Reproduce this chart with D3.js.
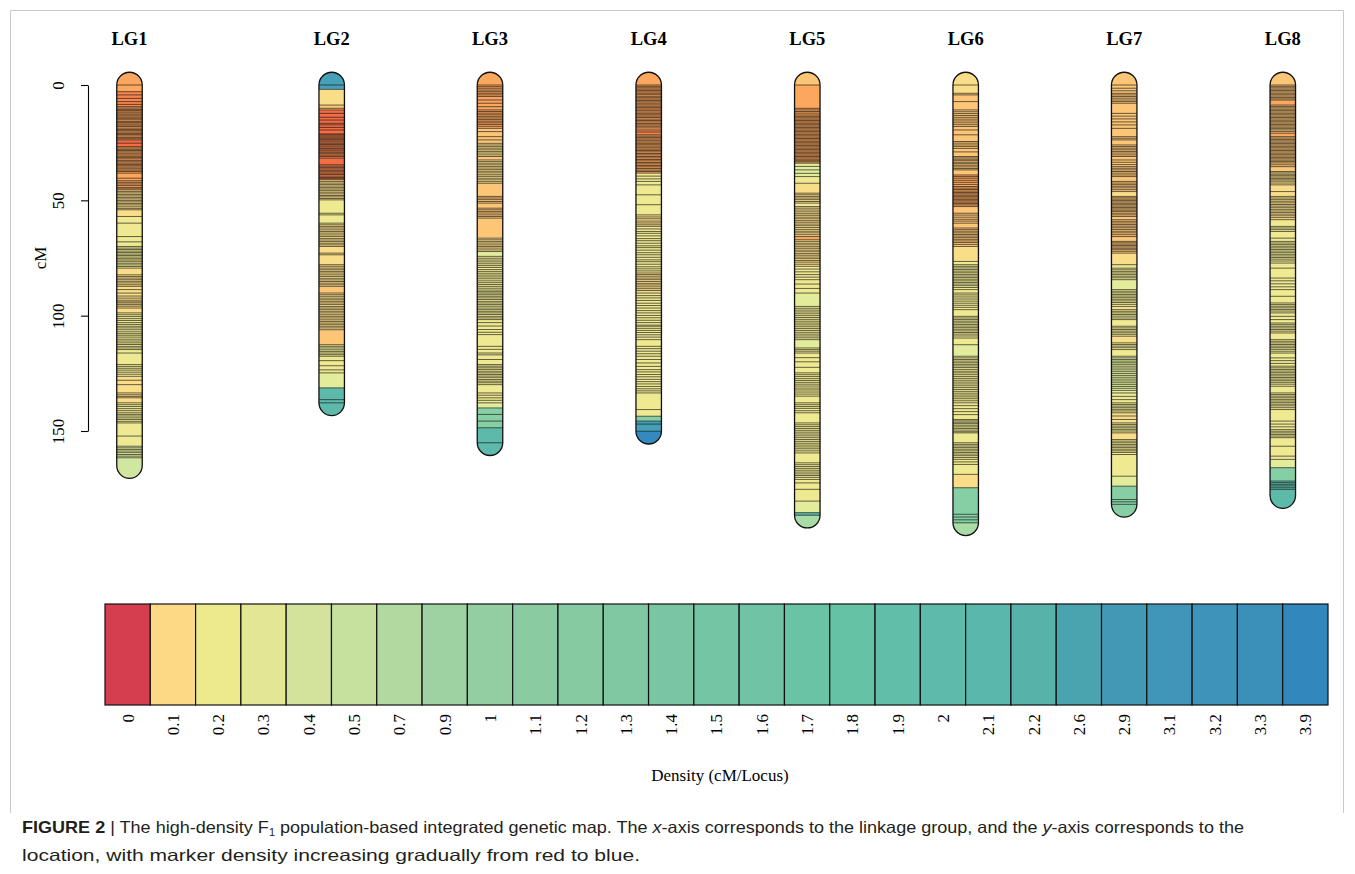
<!DOCTYPE html>
<html><head><meta charset="utf-8">
<script src="https://cdn.jsdelivr.net/npm/d3@7"></script>
<style>body{margin:0;background:#fff}svg{display:block}</style>
</head><body>
<svg id="chart" width="1355" height="874"></svg>
<script>
// ---------- DATA ----------
const lgNames = ["LG1","LG2","LG3","LG4","LG5","LG6","LG7","LG8"];
const lgLength = [165, 137.8, 155.1, 150.1, 186.5, 189.8, 181.8, 178];
const yTicks = [0, 50, 100, 150];

const lg1Markers = [0,2.9,4.3,5.8,7.2,8.4,9.4,10.0,10.6,11.1,11.7,12.2,12.9,13.4,14.0,14.6,15.1,15.8,16.3,16.9,17.4,18.0,18.7,19.3,19.8,20.4,21.0,21.5,22.1,22.8,23.3,23.8,25.2,26.7,27.3,27.9,28.4,29.0,29.6,30.3,30.9,31.4,32.0,32.7,33.3,33.9,34.5,35.0,35.6,36.3,36.9,37.5,38.2,40.4,41.5,42.2,42.9,43.6,44.4,45.0,45.5,46.2,46.8,47.5,48.1,48.8,49.4,50.1,50.7,51.4,52.0,52.8,53.5,54.1,57.0,59.9,65.7,68.0,70.0,70.7,71.3,72.0,72.6,73.3,73.9,74.6,75.3,75.9,76.6,77.3,78.0,78.7,79.4,82.3,83.0,83.7,84.4,85.1,85.8,86.6,87.3,88.7,90.2,91.5,92.4,93.3,94.0,94.5,95.2,95.9,96.7,98.8,99.6,100.4,101.3,102.1,103.0,103.8,104.6,105.3,106.1,107.0,107.8,108.5,109.3,110.2,111.0,111.8,112.5,113.3,114.0,114.7,116.2,121.2,122.0,122.8,123.6,124.5,125.4,126.3,128.0,129.9,133.5,134.3,135.0,135.6,137.8,138.6,139.4,140.3,141.2,142.1,142.8,143.5,144.3,145.0,145.8,146.5,152.2,156.6,157.3,158.0,158.7,159.4,160.2,160.9,161.6];
const lg2Markers = [0,1.9,8.7,10.1,10.8,12.3,14.0,15.2,16.6,17.3,18.4,19.5,21.2,21.6,22.1,22.6,23.1,23.6,24.2,24.7,25.3,25.8,26.4,26.9,27.5,28.1,28.6,29.2,29.8,30.4,31.0,31.7,34.6,35.2,35.8,36.4,37.0,37.6,38.2,38.8,39.5,40.1,40.6,41.1,41.8,42.5,43.1,43.8,44.5,45.1,45.8,46.5,47.2,47.9,48.5,49.2,49.8,55.6,56.3,59.9,60.6,61.3,62.0,62.8,63.5,64.2,65.0,65.7,66.5,67.2,67.9,68.6,69.3,70.0,72.9,73.6,77.9,78.6,79.4,80.1,80.8,81.5,82.3,83.0,83.8,84.5,85.2,85.9,86.6,87.3,90.2,90.9,91.6,92.4,93.1,93.8,94.5,95.2,96.0,96.7,97.4,98.1,98.8,99.6,100.3,101.0,101.8,102.5,103.2,103.9,104.6,105.3,106.1,112.6,113.3,114.0,114.8,115.5,116.2,116.9,117.6,119.5,121.7,123.5,124.8,131.3,136.4,137.8];
const lg3Markers = [0,0.7,1.4,2.2,2.9,3.6,4.3,5.0,6.5,7.9,9.4,10.8,11.5,12.2,12.9,13.6,14.3,15.0,15.7,16.4,17.1,17.9,18.8,20.2,22.4,23.8,25.3,26.0,26.7,27.4,28.1,28.8,29.5,30.3,31.0,32.5,33.2,33.9,34.6,35.3,36.0,36.7,37.4,38.1,38.9,39.6,40.4,41.1,41.9,42.6,48.3,49.0,49.7,50.5,51.2,53.4,54.1,54.8,55.5,56.3,57.0,57.7,66.4,67.1,67.8,68.5,69.3,70.0,70.7,71.5,72.2,74.3,75.1,75.9,76.7,77.5,78.3,79.1,80.0,80.8,81.6,82.4,83.2,84.0,84.9,85.7,86.5,87.3,88.1,88.9,89.6,90.2,90.9,91.6,92.3,93.0,93.8,94.5,95.2,95.9,96.7,97.4,98.1,98.8,99.5,100.3,101.0,101.7,103.0,104.5,106.0,107.2,108.2,113.3,114.6,116.2,117.0,119.0,121.2,121.9,122.6,123.3,124.1,124.8,125.5,126.2,126.9,127.7,128.4,129.1,129.9,133.5,134.5,135.6,136.7,137.8,140.0,142.8,145.7,148.6,155.1];
const lg4Markers = [0,0.6,1.2,1.8,2.4,3.0,3.6,4.2,4.9,5.5,6.1,6.7,7.3,7.9,8.6,9.2,9.8,10.4,11.0,11.7,12.3,12.9,13.5,14.1,14.8,15.4,16.0,16.7,17.3,17.9,18.6,19.5,20.4,21.6,22.2,22.8,23.4,24.0,24.7,25.3,25.9,26.5,27.2,27.8,28.4,29.0,29.7,30.3,31.0,31.6,32.3,32.9,33.6,34.2,34.9,35.5,36.2,36.9,37.5,38.2,39.5,40.7,41.8,43.3,47.6,51.9,56.3,57.2,58.0,59.0,59.8,60.6,61.3,62.4,63.5,64.3,65.4,66.6,67.5,68.6,69.7,70.5,71.6,72.7,73.6,74.7,75.8,76.6,77.7,78.8,79.7,80.6,81.5,82.2,82.9,83.7,84.4,85.2,86.0,86.7,87.5,88.3,89.1,90.2,91.3,92.3,93.4,94.6,95.6,96.7,97.8,98.8,99.9,100.9,102.0,103.0,104.1,104.6,105.5,106.4,107.3,108.3,109.3,110.4,113.3,114.3,115.4,116.5,117.6,119.0,120.5,122.0,123.4,124.4,125.5,126.5,127.6,128.6,129.6,130.7,131.7,132.6,133.5,140.7,143.6,145.7,147.0,150.1];
const lg5Markers = [0,10.1,10.8,11.5,12.2,13.0,13.6,14.2,14.8,15.4,16.0,16.6,17.2,17.8,18.4,19.0,19.6,20.2,20.8,21.4,22.0,22.6,23.2,23.8,24.4,25.0,25.6,26.2,26.8,27.4,28.0,28.6,29.2,29.8,30.4,31.0,31.6,32.2,32.8,33.3,33.9,35.3,36.8,38.3,39.7,42.6,46.9,47.6,48.3,49.0,49.7,50.5,51.2,52.7,53.4,54.2,55.0,55.8,56.5,57.3,58.0,58.8,59.5,60.3,61.0,61.8,62.6,63.4,64.1,64.9,65.7,67.1,67.8,68.6,69.3,70.1,70.8,71.6,72.3,73.1,73.8,74.6,75.3,76.1,76.8,77.7,78.6,79.8,81.0,82.2,83.3,84.4,86.3,88.2,90.2,96.0,96.8,97.6,98.4,99.2,100.0,100.8,101.6,102.4,103.2,104.0,104.8,105.6,106.4,107.2,108.0,108.8,109.6,110.4,114.0,114.7,115.4,116.2,118.2,120.0,122.4,124.8,125.6,126.4,127.3,128.1,128.9,129.7,130.5,131.4,132.2,133.1,134.0,134.9,137.8,138.6,139.4,140.2,141.2,142.1,146.5,147.3,148.1,148.9,149.7,150.5,151.3,152.1,152.9,153.7,154.5,155.3,156.1,156.9,157.7,158.6,159.5,163.8,164.6,165.4,166.2,167.0,167.8,168.6,169.3,170.1,171.0,172.5,175.3,180.4,185.4,186.5];
const lg6Markers = [0,3.6,4.3,7.2,10.8,11.6,12.4,13.2,14.0,14.8,15.6,16.4,17.2,18.0,19.5,21.6,24.5,25.2,26.0,26.7,27.5,29.0,31.0,31.6,32.2,32.8,33.5,34.1,34.8,35.5,36.2,36.8,39.0,39.7,40.4,41.3,42.2,43.1,44.0,44.7,45.3,46.0,46.6,47.2,47.8,48.4,49.0,49.6,50.2,50.8,51.4,52.0,52.7,55.6,56.4,57.3,58.2,59.0,59.9,62.0,62.7,63.4,64.1,64.8,65.5,66.2,66.9,67.6,68.3,69.1,70.0,76.5,77.9,78.6,79.3,80.0,80.7,81.4,82.1,82.8,83.5,84.2,84.9,85.6,86.3,87.0,87.8,88.7,90.2,91.0,91.9,92.8,93.7,94.6,95.5,96.4,97.4,100.3,101.0,101.7,102.4,103.1,103.8,104.5,105.2,105.9,106.6,107.3,108.0,108.8,109.7,112.6,117.6,118.3,119.0,119.7,120.4,121.1,121.8,122.5,123.3,124.1,124.8,125.6,126.4,127.2,128.0,128.8,129.6,130.4,131.2,132.0,132.8,133.6,134.4,135.2,136.0,136.9,137.8,139.0,140.3,141.6,142.9,145.0,145.6,146.2,146.8,147.5,148.2,148.9,149.6,150.3,150.8,155.1,155.8,156.5,157.2,157.9,158.6,159.3,160.0,160.7,161.5,162.3,163.4,164.5,168.8,174.6,186.1,187.3,188.5,189.8];
const lg7Markers = [0,1.4,2.5,3.6,4.3,5.0,5.7,6.5,7.2,7.9,12.3,13.5,14.7,16.0,17.3,18.8,22.4,23.1,23.8,26.0,26.7,27.4,28.1,28.8,29.5,30.3,31.0,32.5,33.5,34.5,35.4,36.1,36.8,37.5,38.2,39.0,39.7,41.8,42.5,43.2,43.9,44.6,45.4,46.2,48.3,48.9,49.5,50.1,50.7,51.3,51.9,52.5,53.1,53.7,54.3,54.9,55.6,56.3,57.0,58.4,59.1,59.8,60.5,61.2,61.9,62.6,63.4,64.1,64.9,65.7,67.8,68.4,69.0,69.6,70.2,70.8,71.4,72.1,72.9,77.9,79.4,80.1,80.8,81.5,82.2,82.9,83.6,84.4,88.7,89.4,90.1,90.8,91.5,92.2,92.9,93.6,94.3,95.1,96.0,97.4,98.1,98.8,99.5,100.2,101.0,101.7,104.6,105.3,106.0,106.7,107.4,108.1,108.9,111.8,112.5,113.2,113.9,114.7,117.6,118.3,119.0,119.7,120.4,121.1,121.9,122.7,123.5,124.3,125.1,125.9,126.7,127.5,128.3,129.1,129.9,130.7,131.5,132.4,133.5,135.0,136.4,137.8,138.5,139.2,139.9,140.6,141.3,142.1,143.5,145.0,146.5,147.2,147.9,148.6,149.3,150.0,150.8,153.7,154.4,155.1,155.8,156.5,157.2,157.9,158.6,159.3,160.2,169.6,173.9,179.7,180.7,181.8];
const lg8Markers = [0,0.6,1.2,1.8,2.4,3.0,3.6,4.2,4.8,5.4,6.0,6.5,8.7,9.3,9.9,10.5,11.1,11.7,12.3,12.9,13.5,14.1,14.7,15.3,15.9,16.5,17.1,17.7,18.3,18.9,19.5,20.2,20.9,22.4,23.0,23.6,24.2,24.8,25.4,26.0,26.6,27.2,27.8,28.4,29.0,29.6,30.2,30.8,31.4,32.0,32.6,33.2,33.8,34.6,35.4,37.5,38.1,38.7,39.3,39.9,40.5,41.1,41.7,42.5,43.3,46.2,48.3,49.0,49.7,50.4,51.1,51.8,52.5,53.2,53.9,54.6,55.3,56.0,56.7,57.5,58.4,61.3,62.0,62.7,63.5,66.4,67.8,68.5,69.2,69.9,70.6,71.3,72.0,72.7,73.4,74.1,74.8,75.5,76.3,77.2,79.4,83.7,84.9,86.2,87.5,88.7,91.6,94.5,95.2,95.9,96.6,97.3,98.0,98.8,100.3,101.7,103.2,103.9,104.6,105.3,106.0,106.7,107.5,110.4,111.1,111.8,112.5,113.2,113.9,114.6,115.4,116.2,118.3,119.5,120.7,121.9,122.6,123.3,124.0,124.7,125.4,126.1,126.8,127.5,128.2,128.9,129.7,130.6,133.5,134.2,134.9,135.6,136.3,137.0,137.7,138.4,139.1,139.9,140.7,145.7,147.0,148.2,149.4,150.1,150.8,151.5,152.2,152.9,156.6,160.9,162.3,165.9,171.7,172.4,173.1,173.8,174.6,175.3];

// background density segments: [start cM, end cM, colour key]
const lg1Segments = [[0,2.9,"O"],[2.9,9.4,"r"],[9.4,23.8,"O"],[23.8,26.7,"R"],[26.7,45.5,"O"],[45.5,57,"Y"],[57,79.4,"y"],[79.4,98.8,"Y"],[98.8,126.3,"y"],[126.3,137.8,"Y"],[137.8,156.6,"y"],[156.6,161.6,"g"],[161.6,165,"G"]];
const lg2Segments = [[0,1.9,"b"],[1.9,8.7,"Y"],[8.7,10.8,"o"],[10.8,21.6,"R"],[21.6,31.7,"r"],[31.7,34.6,"R"],[34.6,41.1,"r"],[41.1,49.8,"Y"],[49.8,60.6,"y"],[60.6,87.3,"Y"],[87.3,90.2,"o"],[90.2,106.1,"Y"],[106.1,112.6,"o"],[112.6,124.8,"y"],[124.8,131.3,"g"],[131.3,137.8,"T"]];
const lg3Segments = [[0,18.8,"O"],[18.8,25.3,"o"],[25.3,31,"Y"],[31,32.5,"o"],[32.5,42.6,"Y"],[42.6,66.4,"o"],[66.4,72.2,"Y"],[72.2,74.3,"g"],[74.3,137.8,"y"],[137.8,140,"g"],[140,148.6,"M"],[148.6,155.1,"T"]];
const lg4Segments = [[0,19.5,"O"],[19.5,21.6,"r"],[21.6,38.2,"O"],[38.2,56.3,"y"],[56.3,61.3,"Y"],[61.3,81.5,"y"],[81.5,90.2,"Y"],[90.2,143.6,"y"],[143.6,145.7,"M"],[145.7,150.1,"b"]];
const lg5Segments = [[0,33.9,"O"],[33.9,39.7,"g"],[39.7,42.6,"y"],[42.6,51.2,"Y"],[51.2,52.7,"y"],[52.7,65.7,"Y"],[65.7,67.1,"O"],[67.1,78.6,"Y"],[78.6,90.2,"y"],[90.2,96,"g"],[96,110.4,"y"],[110.4,114,"g"],[114,180.4,"y"],[180.4,185.4,"g"],[185.4,186.5,"T"]];
const lg6Segments = [[0,3.6,"Y"],[3.6,39,"o"],[39,52.7,"O"],[52.7,70,"o"],[70,76.5,"Y"],[76.5,112.6,"y"],[112.6,117.6,"g"],[117.6,168.8,"y"],[168.8,174.6,"Y"],[174.6,189.8,"M"]];
const lg7Segments = [[0,46.2,"o"],[46.2,48.3,"Y"],[48.3,72.9,"o"],[72.9,77.9,"Y"],[77.9,84.4,"y"],[84.4,88.7,"g"],[88.7,96,"y"],[96,97.4,"Y"],[97.4,108.9,"y"],[108.9,111.8,"Y"],[111.8,117.6,"y"],[117.6,133.5,"g"],[133.5,142.1,"y"],[142.1,146.5,"Y"],[146.5,150.8,"y"],[150.8,153.7,"Y"],[153.7,169.6,"y"],[169.6,173.9,"g"],[173.9,181.8,"M"]];
const lg8Segments = [[0,6.5,"o"],[6.5,8.7,"O"],[8.7,20.9,"o"],[20.9,22.4,"O"],[22.4,37.5,"o"],[37.5,58.4,"Y"],[58.4,162.3,"y"],[162.3,165.9,"g"],[165.9,171.7,"M"],[171.7,178,"T"]];
const capTop = ["O","b","O","O","o","Y","o","o"];
const capBottom = ["G","T","T","B","L","L","M","T"];

const legendLabels = ["0","0.1","0.2","0.3","0.4","0.5","0.7","0.9","1","1.1","1.2","1.3","1.4","1.5","1.6","1.7","1.8","1.9","2","2.1","2.2","2.6","2.9","3.1","3.2","3.3","3.9"];
const legendColors = ["#D53E4F","#FDD985","#EDEA8E","#E2E695","#D4E39B","#C6E09E","#B1D9A0","#9FD2A2","#92CEA1","#8ACBA2","#85CAA1","#7FC8A2","#7AC6A2","#74C5A3","#70C3A5","#6BC3A5","#66C2A5","#61BEA9","#5EBAAA","#5AB7AB","#57B2AA","#4AA4AF","#4299B5","#4096B8","#3D93B9","#3B90BA","#3288BD"];

// colour keys used by the density segments
const segColors = {R:"#F46D43", r:"#F7864F", O:"#FCA75E", o:"#FDC677", Y:"#FADD89", y:"#EFE992", g:"#E2EC9B", G:"#CFE7A1", L:"#A9DBA4", M:"#86CEA4", T:"#5DB9AA", b:"#46A0B8", B:"#3489BE"};

const markers = [lg1Markers,lg2Markers,lg3Markers,lg4Markers,lg5Markers,lg6Markers,lg7Markers,lg8Markers];
const segments = [lg1Segments,lg2Segments,lg3Segments,lg4Segments,lg5Segments,lg6Segments,lg7Segments,lg8Segments];

// ---------- DRAW ----------
const svg = d3.select("#chart");
const serif = "'Liberation Serif','Times New Roman',serif";

// frame (top, left, right)
svg.append("path").attr("d","M10.5,813 V10.5 H1343.5 V813")
  .attr("fill","none").attr("stroke","#c9c9c9").attr("stroke-width",1);

const y = d3.scaleLinear().domain([0,150]).range([85,431]);
const x = d3.scaleOrdinal().domain(lgNames).range([129.5,331.7,490,648.7,807.3,965.7,1124.2,1282.8]);
const barW = 25.5, r = barW/2;

// y axis
const ax = svg.append("g").attr("transform","translate(88,0)")
  .call(d3.axisLeft(y).tickValues(yTicks).tickSize(7).tickSizeOuter(0).tickFormat(d3.format("d")));
ax.select(".domain").attr("stroke","#000").attr("stroke-width",1.1);
ax.selectAll(".tick line").attr("stroke","#000").attr("stroke-width",1.1);
ax.selectAll(".tick text").attr("font-family",serif).attr("font-size",17).attr("fill","#000")
  .attr("transform","rotate(-90)").attr("x",0).attr("y",-30).attr("dy","0.35em")
  .attr("text-anchor","middle");
svg.append("text").attr("transform","translate(46,258) rotate(-90)").attr("text-anchor","middle")
  .attr("font-family",serif).attr("font-size",17).text("cM");

// chromosomes
const defs = svg.append("defs");
lgNames.forEach((name,i)=>{
  const cx = x(name), x0 = cx - barW/2;
  const top = y(0) - r, bot = y(lgLength[i]) + r;
  defs.append("clipPath").attr("id","clip"+i).append("rect")
    .attr("x",x0).attr("y",top).attr("width",barW).attr("height",bot-top).attr("rx",r).attr("ry",r);
  const g = svg.append("g").attr("clip-path",`url(#clip${i})`);
  g.append("rect").attr("x",x0).attr("y",top).attr("width",barW).attr("height",r+0.5).attr("fill",segColors[capTop[i]]);
  g.append("rect").attr("x",x0).attr("y",y(lgLength[i])-0.5).attr("width",barW).attr("height",r+1).attr("fill",segColors[capBottom[i]]);
  g.selectAll("rect.seg").data(segments[i]).join("rect").attr("class","seg")
    .attr("x",x0).attr("width",barW)
    .attr("y",d=>y(d[0])).attr("height",d=>Math.max(0.5,y(d[1])-y(d[0])+0.3))
    .attr("fill",d=>segColors[d[2]]);
  g.selectAll("line.mk").data(markers[i]).join("line").attr("class","mk")
    .attr("x1",x0).attr("x2",x0+barW).attr("y1",d=>y(d)).attr("y2",d=>y(d))
    .attr("stroke","#111").attr("stroke-width",0.8).attr("stroke-opacity",0.8);
  svg.append("rect").attr("x",x0).attr("y",top).attr("width",barW).attr("height",bot-top)
    .attr("rx",r).attr("ry",r).attr("fill","none").attr("stroke","#111").attr("stroke-width",1.3);
  svg.append("text").attr("x",cx).attr("y",45).attr("text-anchor","middle")
    .attr("font-family",serif).attr("font-weight","bold").attr("font-size",18.5).text(name);
});

// legend
const lx = d3.scaleBand().domain(legendLabels).range([105,1328]);
const lg = svg.append("g");
lg.selectAll("rect").data(legendLabels).join("rect")
  .attr("x",d=>lx(d)).attr("y",604).attr("width",lx.bandwidth()).attr("height",101)
  .attr("fill",(d,i)=>legendColors[i]).attr("stroke","#111").attr("stroke-width",1.2);
lg.selectAll("text").data(legendLabels).join("text")
  .attr("transform",d=>`translate(${lx(d)+lx.bandwidth()/2},714) rotate(-90)`)
  .attr("text-anchor","end").attr("dy","0.35em")
  .attr("font-family",serif).attr("font-size",17).text(d=>d);
svg.append("text").attr("x",720).attr("y",781).attr("text-anchor","middle")
  .attr("font-family",serif).attr("font-size",17).text("Density (cM/Locus)");

// caption
const sans = "'Liberation Sans',Arial,sans-serif";
const c1 = svg.append("text").attr("x",22).attr("y",833).attr("font-family",sans).attr("font-size",16.5)
  .attr("fill","#231f20").attr("textLength",1222).attr("lengthAdjust","spacingAndGlyphs");
c1.append("tspan").attr("font-weight","bold").text("FIGURE 2");
c1.append("tspan").text(" | The high-density F");
c1.append("tspan").attr("font-size",10).attr("dy",3).text("1");
c1.append("tspan").attr("dy",-3).text(" population-based integrated genetic map. The ");
c1.append("tspan").attr("font-style","italic").text("x");
c1.append("tspan").text("-axis corresponds to the linkage group, and the ");
c1.append("tspan").attr("font-style","italic").text("y");
c1.append("tspan").text("-axis corresponds to the");
svg.append("text").attr("x",22).attr("y",861).attr("font-family",sans).attr("font-size",16.5)
  .attr("fill","#231f20").attr("textLength",618).attr("lengthAdjust","spacingAndGlyphs")
  .text("location, with marker density increasing gradually from red to blue.");
</script>
</body></html>
